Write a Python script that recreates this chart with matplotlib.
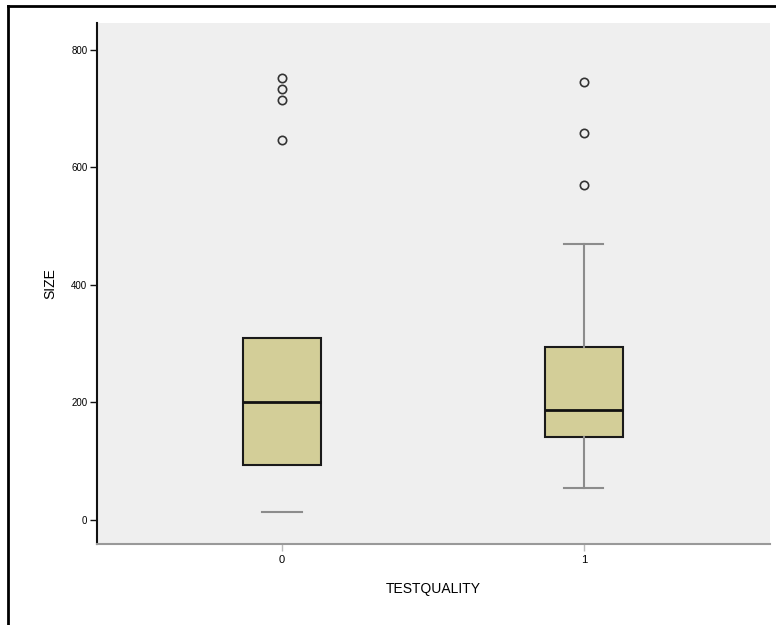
import matplotlib
matplotlib.use("Agg")
import matplotlib.pyplot as plt
from matplotlib.lines import Line2D

plt.rcParams['font.family'] = ['Liberation Sans', 'DejaVu Sans']

# Box summaries of SIZE by TESTQUALITY group
groups = ["0", "1"]
q1 = [94, 141]
medians = [200, 187]
q3 = [310, 294]
whisker_low = [14, 54]
whisker_high = [310, 470]
outliers_0 = [752, 734, 715, 647]
outliers_1 = [746, 659, 570]
y_ticks = [0, 200, 400, 600, 800]

fig = plt.figure(figsize=(7.76, 6.25), dpi=100)
ax = fig.add_axes([0.125, 0.1296, 0.867, 0.8336])
ax.set_facecolor("#efefef")

stats = []
for i, fl in enumerate([outliers_0, outliers_1]):
    stats.append(dict(med=medians[i], q1=q1[i], q3=q3[i],
                      whislo=whisker_low[i], whishi=whisker_high[i],
                      fliers=fl, label=groups[i]))

res = ax.bxp(stats, positions=[0, 1], widths=0.26, patch_artist=True,
             boxprops=dict(facecolor="#d3ce98", edgecolor="#1a1a1a", linewidth=1.5),
             medianprops=dict(color="#111111", linewidth=2),
             whiskerprops=dict(color="#8c8c8c", linewidth=1.5),
             capprops=dict(color="#8c8c8c", linewidth=1.5),
             flierprops=dict(marker="o", markerfacecolor="none",
                             markeredgecolor="#333333", markersize=6,
                             markeredgewidth=1.2),
             capwidths=0.13)

# first group: whiskers hidden, only the lower cap remains
for w in res["whiskers"][:2]:
    w.set_visible(False)
res["caps"][1].set_visible(False)

ax.set_xlim(-0.613, 1.616)
ax.set_ylim(-41, 846)
ax.set_yticks(y_ticks)
ax.set_yticklabels([str(v) for v in y_ticks], fontsize=7)
ax.set_xticks([0, 1])
ax.set_xticklabels(groups, fontsize=8)

for s in ["top", "right"]:
    ax.spines[s].set_visible(False)
ax.spines["left"].set_color("#111111")
ax.spines["left"].set_linewidth(1.5)
ax.spines["bottom"].set_color("#999999")
ax.spines["bottom"].set_linewidth(1.5)
ax.tick_params(axis="y", length=5, width=1, color="#111111", pad=2)
ax.tick_params(axis="x", length=5, width=1, color="#bbbbbb", pad=3)

ax.set_xlabel("TESTQUALITY", fontsize=10, labelpad=12)
ax.set_ylabel("SIZE", fontsize=10, labelpad=10)

# outer frame edges
fig.add_artist(Line2D([8 / 776, 8 / 776], [0, 1 - 6 / 625], color="black",
                      linewidth=2, transform=fig.transFigure))
fig.add_artist(Line2D([8 / 776, 1], [1 - 6 / 625, 1 - 6 / 625], color="black",
                      linewidth=2, transform=fig.transFigure))

fig.savefig("out.png", dpi=100)
